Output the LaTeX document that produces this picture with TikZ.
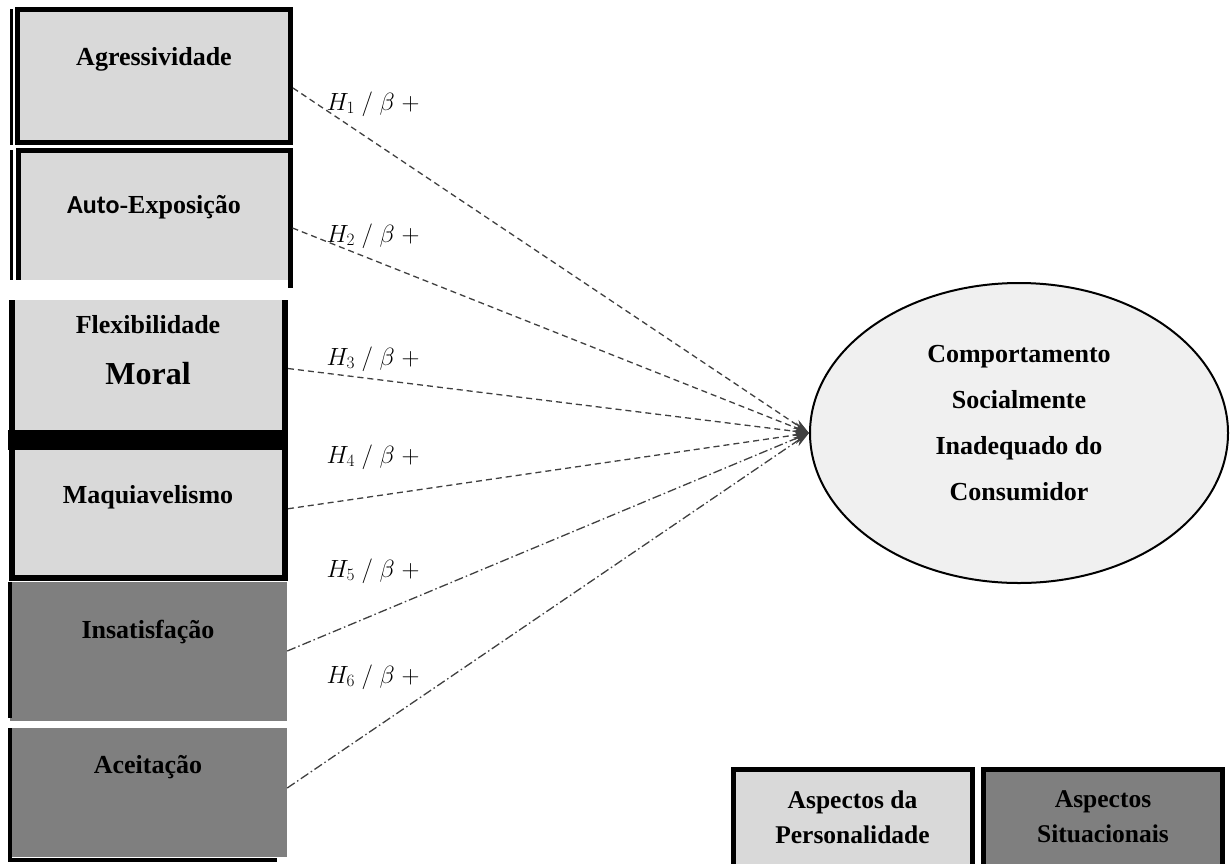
\documentclass[tikz,border=0pt]{standalone}
\usepackage{fontspec}
\setmainfont{Liberation Serif}
\newfontfamily\calibrifont{Carlito}
\usetikzlibrary{arrows.meta,shapes.geometric,positioning}

\definecolor{persgray}{HTML}{D9D9D9}
\definecolor{sitgray}{HTML}{7F7F7F}
\definecolor{ellgray}{HTML}{F0F0F0}

\begin{document}
\begin{tikzpicture}[x=1pt,y=-1pt,
    pbox/.style={rectangle,draw=black,line width=5pt,fill=persgray,inner sep=0pt},
    sbox/.style={rectangle,fill=sitgray,inner sep=0pt},
    boxtext/.style={font=\fontsize{26}{31}\selectfont\bfseries,anchor=base},
    elltext/.style={font=\fontsize{26}{45.7}\selectfont\bfseries,align=center},
    legtext/.style={font=\fontsize{25.5}{35}\selectfont\bfseries,align=center},
    hyp/.style={font=\fontsize{26}{30}\selectfont,anchor=base west},
    link/.style={draw=black!75,line width=1.3pt,-{Stealth[length=16pt,width=10pt]}},
    dlink/.style={link,dash pattern=on 6pt off 4pt},
    ddlink/.style={link,dash pattern=on 9pt off 3pt on 1.5pt off 3pt}]
      \clip (0,0) rectangle (1230,863);

      % Draw the personality boxes
      \node[pbox,minimum width=273pt,minimum height=133pt] (agr) at (154,76) {};
      \draw[line width=3pt] (11,9) -- (11,145);
      \node[pbox,minimum width=272pt,minimum height=135pt] (aut) at (154,218) {};
      \draw[line width=3pt] (11,150) -- (11,290);
      \node[pbox,line width=6pt,minimum width=273.5pt,minimum height=143pt] (flex) at (148.25,368.5) {};
      \fill[white] (6,280) rectangle (288,300);
      \node[pbox,line width=6pt,minimum width=273.5pt,minimum height=137.5pt] (maq) at (148.25,508.75) {};
      \fill (8,430) rectangle (288,450);

      % Draw the situational boxes
      \node[sbox,minimum width=277pt,minimum height=139pt] (ins) at (148.5,651) {};
      \draw[line width=4pt] (10,582) -- (10,718);
      \node[sbox,minimum width=277pt,minimum height=129pt] (ace) at (148.5,792.5) {};
      \draw[line width=4pt] (9.5,728) -- (9.5,860) -- (277,860);

      % Box texts
      \node[boxtext] (agrT) at (154,65) {Agressividade};
      \node[boxtext] (autT) at (154,213) {{\calibrifont Auto}-Exposição};
      \node[boxtext] (flexT) at (148,333) {Flexibilidade};
      \node[boxtext,font=\fontsize{32}{36}\selectfont\bfseries] (moralT) at (148,384) {Moral};
      \node[boxtext] (maqT) at (148,503) {Maquiavelismo};
      \node[boxtext] (insT) at (148,638) {Insatisfação};
      \node[boxtext] (aceT) at (148,773) {Aceitação};

      % Draw the outcome
      \node[ellipse,draw,line width=2pt,fill=ellgray,minimum width=418pt,minimum height=300pt,inner sep=0pt] (csi) at (1019,433) {};
      \node[elltext] (csiT) at (1019,423) {Comportamento\\Socialmente\\Inadequado do\\Consumidor};

      % Draw hypotheses
      \draw[dlink] ([yshift=-12pt]agr.east) -- (csi.west);
      \draw[dlink] ([yshift=-10pt]aut.east) -- (csi.west);
      \draw[dlink] (flex.east) -- (csi.west);
      \draw[dlink] (maq.east) -- (csi.west);
      \draw[ddlink] (ins.east) -- (csi.west);
      \draw[ddlink] ([yshift=4.5pt]ace.east) -- (csi.west);
      \node[hyp] (h1) at (323,110) {$H_1\ /\ \beta\;+$};
      \node[hyp] (h2) at (323,242) {$H_2\ /\ \beta\;+$};
      \node[hyp] (h3) at (323,365) {$H_3\ /\ \beta\;+$};
      \node[hyp] (h4) at (323,463) {$H_4\ /\ \beta\;+$};
      \node[hyp] (h5) at (323,577) {$H_5\ /\ \beta\;+$};
      \node[hyp] (h6) at (323,683) {$H_6\ /\ \beta\;+$};

      % Legend
      \node[pbox,minimum width=239pt,minimum height=131pt] (pers) at (852.5,835) {};
      \node[pbox,fill=sitgray,minimum width=239pt,minimum height=131pt] (sit) at (1103,835) {};
      \node[legtext] (persT) at (852.5,817) {Aspectos da\\Personalidade};
      \node[legtext] (sitT) at (1103,817) {Aspectos\\Situacionais};
\end{tikzpicture}
\end{document}
